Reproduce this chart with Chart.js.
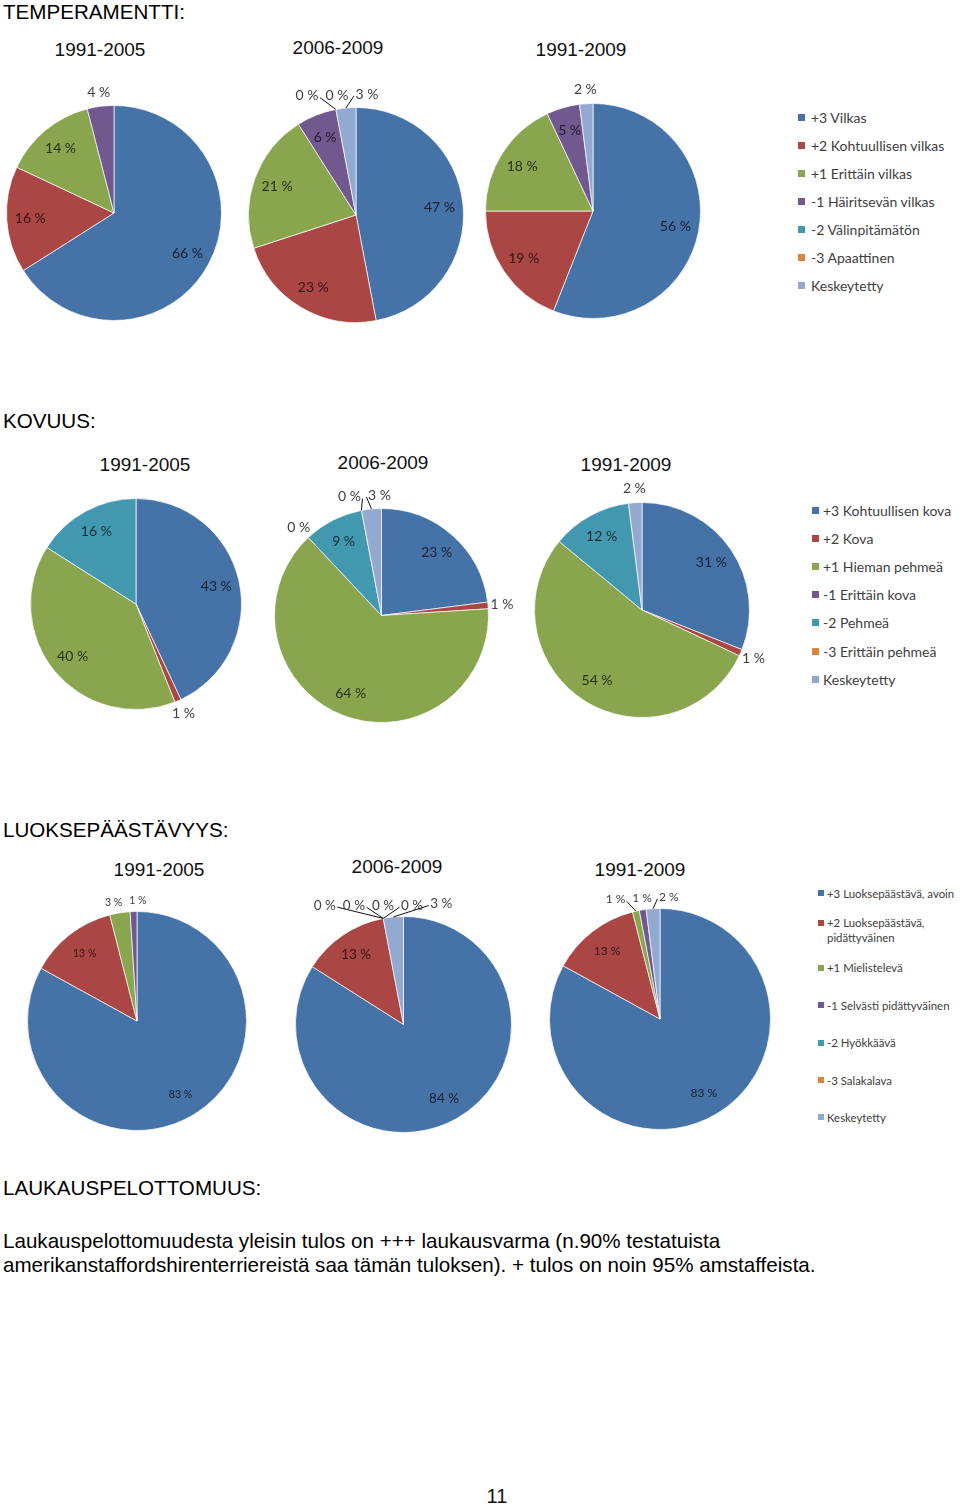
<!DOCTYPE html>
<html>
<head>
<meta charset="utf-8">
<script src="https://cdn.jsdelivr.net/npm/chart.js@4.4.1/dist/chart.umd.min.js"></script>
<style>
    body { margin: 0; background: #fff; }
    #page { position: relative; width: 960px; height: 1508px; overflow: hidden; font-family: "Liberation Sans", Arial, sans-serif; color: #000; }
    .head { position: absolute; left: 3px; font-size: 20.6px; line-height: 22px; white-space: nowrap; }
    .period { position: absolute; font-size: 19px; line-height: 19px; color: #111; transform: translateX(-50%); white-space: nowrap; }
    .leg { position: absolute; font-family: Lato, "Open Sans", sans-serif; color: #404040; white-space: nowrap; }
    .leg i { position: absolute; display: block; }
    canvas { position: absolute; }
</style>
</head>
<body>
<div id="page"></div>
<script>
// categories
var periods = ['1991-2005', '2006-2009', '1991-2009'];

var temperLabels = ['+3 Vilkas', '+2 Kohtuullisen vilkas', '+1 Erittäin vilkas', '-1 Häiritsevän vilkas', '-2 Välinpitämätön', '-3 Apaattinen', 'Keskeytetty'];
var kovuusLabels = ['+3 Kohtuullisen kova', '+2 Kova', '+1 Hieman pehmeä', '-1 Erittäin kova', '-2 Pehmeä', '-3 Erittäin pehmeä', 'Keskeytetty'];
var luoksLabels = ['+3 Luoksepäästävä, avoin', ['+2 Luoksepäästävä,', 'pidättyväinen'], '+1 Mielistelevä', '-1 Selvästi pidättyväinen', '-2 Hyökkäävä', '-3 Salakalava', 'Keskeytetty'];

// percentages (null = not shown in the pie at all)
var temper9105 = [66, 16, 14, 4, null, null, null];
var temper0609 = [47, 23, 21, 6, 0, 0, 3];
var temper9109 = [56, 19, 18, 5, null, null, 2];

var kovuus9105 = [43, 1, 40, null, 16, null, null];
var kovuus0609 = [23, 1, 64, 0, 9, 0, 3];
var kovuus9109 = [31, 1, 54, null, 12, null, 2];

var luoks9105 = [83, 13, 3, 1, null, null, null];
var luoks0609 = [84, 13, 0, 0, 0, 0, 3];
var luoks9109 = [83, 13, 1, 1, null, null, 2];

var sliceColors = ['#4572A7', '#AA4643', '#89A54E', '#71588F', '#4198AF', '#DB843D', '#93A9CF'];

var PAD = 40;
var page = document.getElementById('page');

function darken(hex) {
    var n = parseInt(hex.slice(1), 16);
    var r = Math.round(((n >> 16) & 255) * 0.3);
    var g = Math.round(((n >> 8) & 255) * 0.3);
    var b = Math.round((n & 255) * 0.3);
    return 'rgb(' + r + ',' + g + ',' + b + ')';
}

function spread(group) {
    var total = 0, mean = 0;
    group.forEach(function(o) { total += o.w; mean += o.nx; });
    mean = mean / group.length;
    var left = mean - total / 2;
    group.forEach(function(o) { o.x = left + o.w / 2; left += o.w; });
}

// percentage labels: inside for big slices, outside (spread apart) for small ones
var pctLabels = {
    id: 'pctLabels',
    afterDatasetsDraw: function(chart, args, opts) {
        var ctx = chart.ctx;
        var raw = chart.data.datasets[0].data;
        var arcs = chart.getDatasetMeta(0).data;
        var size = opts.size || 13;
        ctx.save();
        ctx.font = size + 'px Lato, "Open Sans", sans-serif';
        ctx.textAlign = 'center';
        ctx.textBaseline = 'middle';
        var outside = [];
        arcs.forEach(function(arc, i) {
            if (raw[i] === null) return;
            var p = arc.getProps(['x', 'y', 'startAngle', 'endAngle', 'outerRadius'], true);
            var mid = (p.startAngle + p.endAngle) / 2;
            var text = raw[i] + ' %';
            if (raw[i] >= 5) {
                var d = p.outerRadius * 0.78;
                ctx.fillStyle = darken(sliceColors[i]);
                ctx.fillText(text, p.x + Math.cos(mid) * d, p.y + Math.sin(mid) * d);
            } else {
                var d2 = p.outerRadius + size;
                var nx = p.x + Math.cos(mid) * d2;
                outside.push({
                    text: text, nx: nx, x: nx, y: p.y + Math.sin(mid) * d2,
                    w: ctx.measureText(text).width + 7,
                    ax: p.x + Math.cos(mid) * p.outerRadius,
                    ay: p.y + Math.sin(mid) * p.outerRadius
                });
            }
        });

        outside.sort(function(a, b) { return a.nx - b.nx; });
        var groups = outside.map(function(o) { return [o]; });
        var merged = true;
        while (merged) {
            merged = false;
            groups.forEach(spread);
            for (var g = 0; g < groups.length - 1; g++) {
                var a = groups[g][groups[g].length - 1], b = groups[g + 1][0];
                if (Math.abs(a.y - b.y) < size && a.x + a.w / 2 > b.x - b.w / 2) {
                    groups.splice(g, 2, groups[g].concat(groups[g + 1]));
                    merged = true;
                    break;
                }
            }
        }

        outside.forEach(function(o) {
            ctx.fillStyle = '#404040';
            ctx.fillText(o.text, o.x, o.y);
            if (Math.abs(o.x - o.nx) > 6) {
                var ex = o.ax > o.x ? o.x + o.w / 2 - 2 : o.x - o.w / 2 + 2;
                ctx.strokeStyle = '#111';
                ctx.lineWidth = 1;
                ctx.beginPath();
                ctx.moveTo(ex, o.y + 2);
                ctx.lineTo(o.ax, o.ay);
                ctx.stroke();
            }
        });
        ctx.restore();
    }
};

function addText(cls, text, left, top) {
    var div = document.createElement('div');
    div.className = cls;
    div.textContent = text;
    div.style.left = left + 'px';
    div.style.top = top + 'px';
    page.appendChild(div);
    return div;
}

function makePie(values, cx, cy, r, fontSize) {
    var canvas = document.createElement('canvas');
    canvas.width = 2 * r + 2 * PAD;
    canvas.height = 2 * r + 2 * PAD;
    canvas.style.left = (cx - r - PAD) + 'px';
    canvas.style.top = (cy - r - PAD) + 'px';
    page.appendChild(canvas);

    new Chart(canvas.getContext('2d'), {
        type: 'pie',
        data: {
            labels: sliceColors.map(function(c, i) { return 'c' + i; }),
            datasets: [{
                data: values,
                backgroundColor: sliceColors,
                borderColor: 'rgba(255,255,255,0.7)',
                borderWidth: 1
            }]
        },
        options: {
            responsive: false,
            animation: false,
            devicePixelRatio: 1,
            layout: { padding: PAD },
            plugins: {
                legend: { display: false },
                tooltip: { enabled: false },
                pctLabels: { size: fontSize }
            }
        },
        plugins: [pctLabels]
    });
}

function makeLegend(labels, markX, textX, y0, step, fontSize, mark) {
    var lh = Math.round(fontSize * 1.35);
    labels.forEach(function(lab, i) {
        var lines = Array.isArray(lab) ? lab : [lab];
        var yc = y0 + i * step;
        var top = yc - lh / 2 - (lines.length - 1) * lh / 2;
        var div = document.createElement('div');
        div.className = 'leg';
        div.style.left = textX + 'px';
        div.style.top = top + 'px';
        div.style.fontSize = fontSize + 'px';
        div.style.lineHeight = lh + 'px';
        div.innerHTML = lines.join('<br>');
        var sq = document.createElement('i');
        sq.style.width = mark + 'px';
        sq.style.height = mark + 'px';
        sq.style.background = sliceColors[i];
        sq.style.left = (markX - textX) + 'px';
        sq.style.top = (lh / 2 - mark / 2) + 'px';
        div.appendChild(sq);
        page.appendChild(div);
    });
}

// TEMPERAMENTTI
addText('head', 'TEMPERAMENTTI:', 3, 1);
addText('period', periods[0], 100, 40);
addText('period', periods[1], 338, 38);
addText('period', periods[2], 581, 40);
makePie(temper9105, 114, 213, 108, 14);
makePie(temper0609, 356, 215, 108, 14);
makePie(temper9109, 593, 211, 108, 14);
makeLegend(temperLabels, 798, 811, 117, 28, 14, 7);

// KOVUUS
addText('head', 'KOVUUS:', 3, 410);
addText('period', periods[0], 145, 455);
addText('period', periods[1], 383, 453);
addText('period', periods[2], 626, 455);
makePie(kovuus9105, 135.5, 603.5, 106, 14);
makePie(kovuus0609, 381.5, 615, 107.5, 14);
makePie(kovuus9109, 641.5, 610, 108, 14);
makeLegend(kovuusLabels, 812, 823, 510, 28.2, 14, 7);

// LUOKSEPÄÄSTÄVYYS
addText('head', 'LUOKSEPÄÄSTÄVYYS:', 3, 819);
addText('period', periods[0], 159, 860);
addText('period', periods[1], 397, 857);
addText('period', periods[2], 640, 860);
makePie(luoks9105, 137, 1021, 110, 10.5);
makePie(luoks0609, 403.5, 1024.5, 108.5, 13.5);
makePie(luoks9109, 659.5, 1018.5, 111, 12);
makeLegend(luoksLabels, 818, 827, 893, 37.4, 11.4, 6);

// LAUKAUSPELOTTOMUUS
addText('head', 'LAUKAUSPELOTTOMUUS:', 3, 1177);
var para = addText('head', '', 3, 1229);
para.style.lineHeight = '24px';
para.innerHTML = 'Laukauspelottomuudesta yleisin tulos on +++ laukausvarma (n.90% testatuista<br>amerikanstaffordshirenterriereistä saa tämän tuloksen). + tulos on noin 95% amstaffeista.';

addText('period', '11', 497, 1487).style.fontSize = '20px';
</script>
</body>
</html>
